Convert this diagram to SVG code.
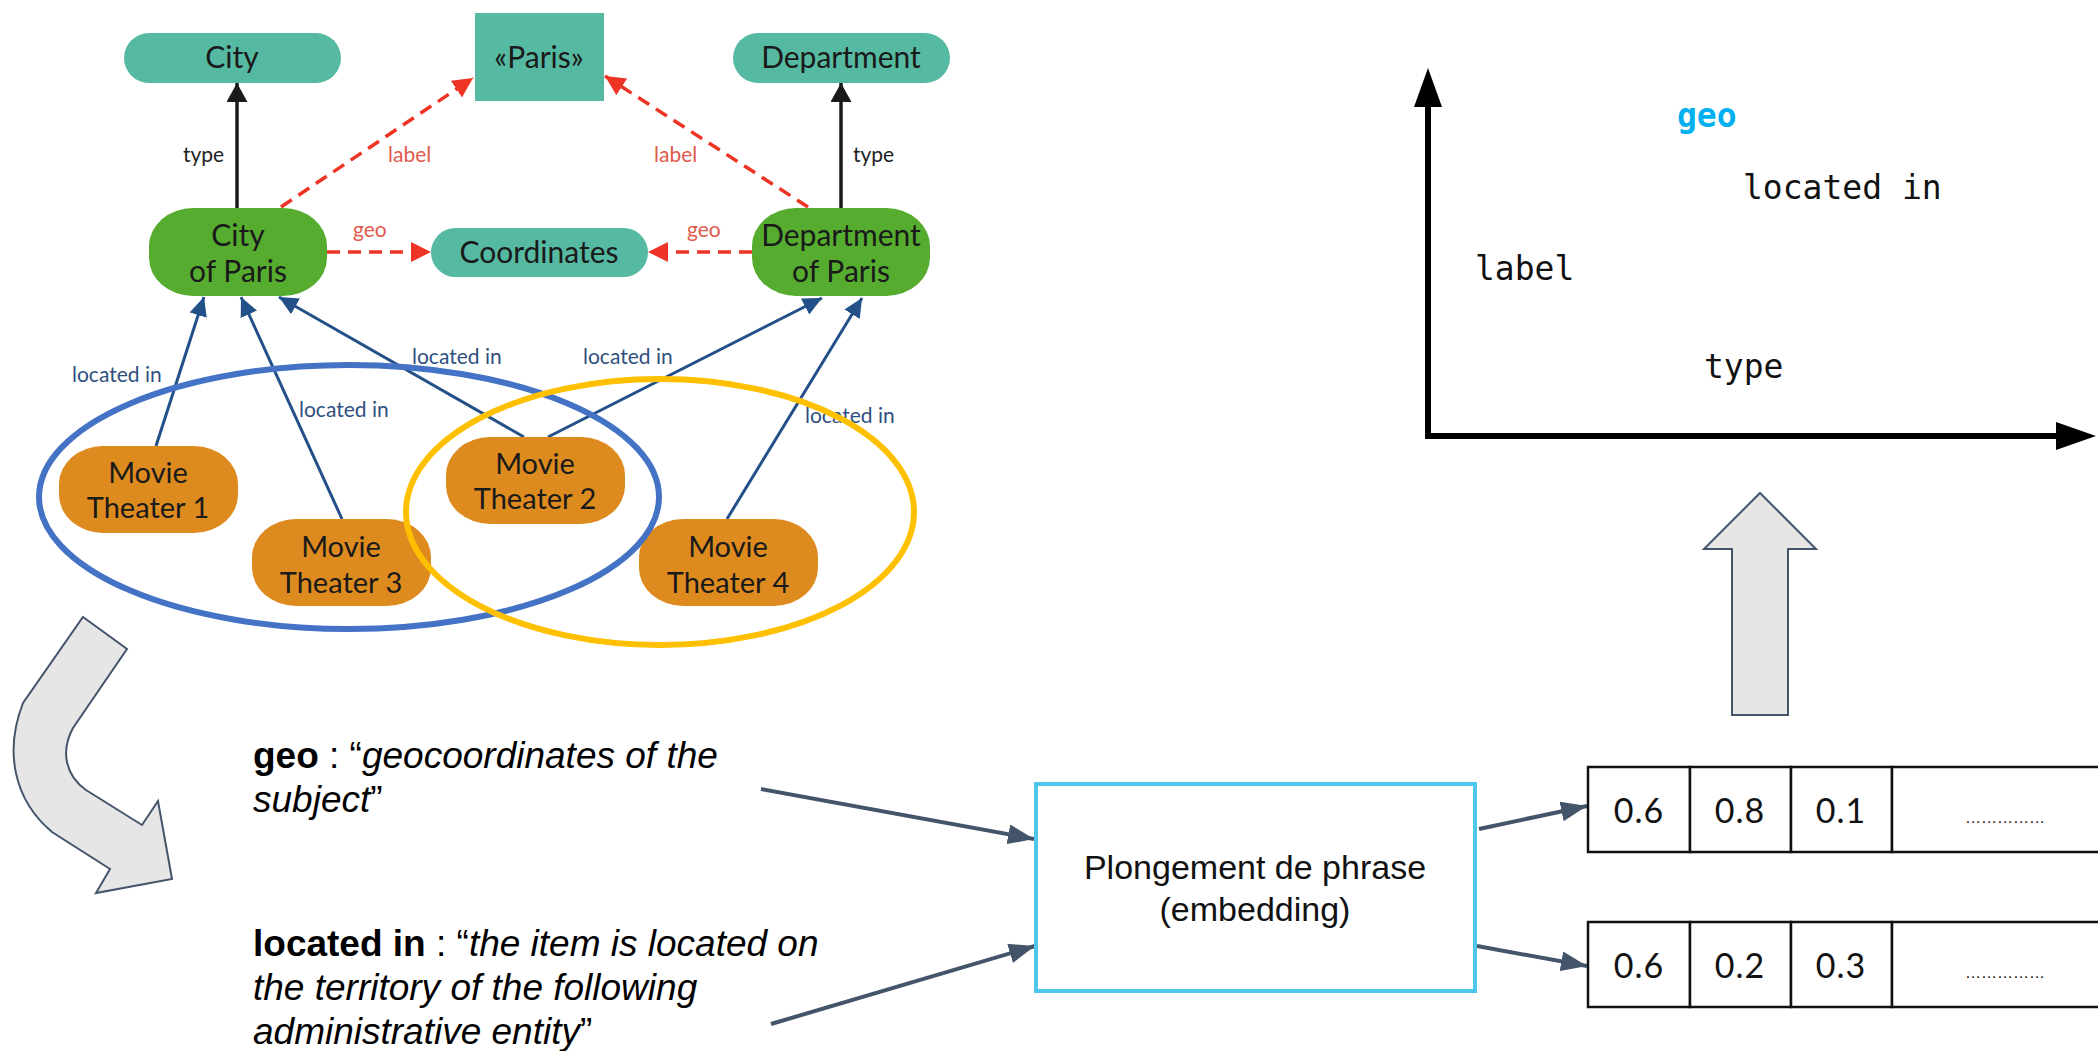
<svg xmlns="http://www.w3.org/2000/svg" width="2098" height="1051" viewBox="0 0 2098 1051">
  <style>
    .teal { fill: #56b9a2; }
    .green { fill: #55ac2f; }
    .orange { fill: #dd8a1f; }
    .ntext { font-family: Lato, "Noto Sans", sans-serif; font-size: 30px; fill: #1a1a1a; text-anchor: middle; }
    .mtext { font-family: Lato, "Noto Sans", sans-serif; font-size: 29px; fill: #1a1a1a; text-anchor: middle; }
    .elbl { font-family: Lato, "Noto Sans", sans-serif; font-size: 21px; }
    .lbl-black { fill: #222222; }
    .lbl-red { fill: #e05a4c; }
    .lbl-blue { fill: #2f4f80; }
    .e-type { stroke: #1a1a1a; stroke-width: 3.5; fill: none; }
    .e-red { stroke: #ee3424; stroke-width: 3.5; fill: none; stroke-dasharray: 13 8; }
    .e-blue { stroke: #24508a; stroke-width: 3; fill: none; }
    .e-slate { stroke: #44546a; stroke-width: 4; fill: none; }
    .mono { font-family: "DejaVu Sans Mono", "Liberation Mono", monospace; font-size: 33px; fill: #111111; }
    .desc { font-family: "Liberation Sans", Arial, sans-serif; font-size: 37px; fill: #000000; }
    .cell { fill: #ffffff; stroke: #111111; stroke-width: 2.5; }
    .num { font-family: Lato, "Noto Sans", sans-serif; font-size: 34px; letter-spacing: 1px; fill: #111111; text-anchor: middle; }
    .big-arrow { fill: #e6e6e6; stroke: #44546a; stroke-width: 2; stroke-linejoin: miter; }
  </style>
  <defs>
    <marker id="ah-black" viewBox="0 0 19 21" refX="19" refY="10.5" markerWidth="19" markerHeight="21" markerUnits="userSpaceOnUse" orient="auto">
      <path d="M0,0 L19,10.5 L0,21 z" fill="#1a1a1a"/>
    </marker>
    <marker id="ah-red" viewBox="0 0 20 20" refX="20" refY="10" markerWidth="20" markerHeight="20" markerUnits="userSpaceOnUse" orient="auto">
      <path d="M0,0 L20,10 L0,20 z" fill="#ee3424"/>
    </marker>
    <marker id="ah-blue" viewBox="0 0 19 18" refX="19" refY="9" markerWidth="19" markerHeight="18" markerUnits="userSpaceOnUse" orient="auto">
      <path d="M0,0 L19,9 L0,18 z" fill="#24508a"/>
    </marker>
    <marker id="ah-slate" viewBox="0 0 26 20" refX="26" refY="10" markerWidth="26" markerHeight="20" markerUnits="userSpaceOnUse" orient="auto">
      <path d="M0,0 L26,10 L0,20 z" fill="#44546a"/>
    </marker>
  </defs>

  <rect x="0" y="0" width="2098" height="1051" fill="#ffffff"/>

  <!-- graph edges and their labels -->
  <g id="connectors">
    <!-- type -->
    <line class="e-type" x1="237" y1="208" x2="237" y2="83" marker-end="url(#ah-black)"/>
    <line class="e-type" x1="841" y1="208" x2="841" y2="83" marker-end="url(#ah-black)"/>
    <text class="elbl lbl-black" x="183" y="162">type</text>
    <text class="elbl lbl-black" x="853" y="162">type</text>

    <!-- label -->
    <line class="e-red" x1="281" y1="207" x2="473" y2="78" marker-end="url(#ah-red)"/>
    <line class="e-red" x1="808" y1="207" x2="605" y2="76" marker-end="url(#ah-red)"/>
    <text class="elbl lbl-red" x="388" y="162">label</text>
    <text class="elbl lbl-red" x="654" y="162">label</text>

    <!-- geo -->
    <line class="e-red" x1="327" y1="252" x2="431" y2="252" marker-end="url(#ah-red)"/>
    <line class="e-red" x1="752" y1="252" x2="648" y2="252" marker-end="url(#ah-red)"/>
    <text class="elbl lbl-red" x="353" y="237">geo</text>
    <text class="elbl lbl-red" x="687" y="237">geo</text>

    <!-- located in -->
    <line class="e-blue" x1="156" y1="446" x2="204" y2="297" marker-end="url(#ah-blue)"/>
    <line class="e-blue" x1="342" y1="519" x2="241" y2="297" marker-end="url(#ah-blue)"/>
    <line class="e-blue" x1="524" y1="437" x2="279" y2="297" marker-end="url(#ah-blue)"/>
    <line class="e-blue" x1="548" y1="437" x2="822" y2="298" marker-end="url(#ah-blue)"/>
    <line class="e-blue" x1="727" y1="519" x2="862" y2="298" marker-end="url(#ah-blue)"/>
    <text class="elbl lbl-blue" x="72" y="382">located in</text>
    <text class="elbl lbl-blue" x="299" y="417">located in</text>
    <text class="elbl lbl-blue" x="412" y="364">located in</text>
    <text class="elbl lbl-blue" x="583" y="364">located in</text>
    <text class="elbl lbl-blue" x="805" y="423">located in</text>

    <!-- descriptions into the sentence embedder, embedder to vectors -->
    <line class="e-slate" x1="761" y1="789" x2="1034" y2="839" marker-end="url(#ah-slate)"/>
    <line class="e-slate" x1="771" y1="1024" x2="1035" y2="946" marker-end="url(#ah-slate)"/>
    <line class="e-slate" x1="1479" y1="829" x2="1587" y2="806" marker-end="url(#ah-slate)"/>
    <line class="e-slate" x1="1477" y1="946" x2="1587" y2="966" marker-end="url(#ah-slate)"/>
  </g>

  <!-- graph nodes -->
  <g id="node-city">
    <rect class="teal" x="124" y="33" width="217" height="50" rx="25"/>
    <text class="ntext" x="232" y="68">City</text>
  </g>
  <g id="node-paris-literal">
    <rect class="teal" x="475" y="13" width="129" height="88"/>
    <text class="ntext" x="539" y="68">«Paris»</text>
  </g>
  <g id="node-department">
    <rect class="teal" x="733" y="33" width="217" height="50" rx="25"/>
    <text class="ntext" x="841" y="68">Department</text>
  </g>
  <g id="node-city-of-paris">
    <rect class="green" x="149" y="208" width="178" height="88" rx="44" ry="38"/>
    <text class="ntext" x="238" y="246">City</text>
    <text class="ntext" x="238" y="282">of Paris</text>
  </g>
  <g id="node-coordinates">
    <rect class="teal" x="431" y="228" width="217" height="49" rx="24.5"/>
    <text class="ntext" x="539" y="263">Coordinates</text>
  </g>
  <g id="node-department-of-paris">
    <rect class="green" x="752" y="208" width="178" height="88" rx="44" ry="38"/>
    <text class="ntext" x="841" y="246">Department</text>
    <text class="ntext" x="841" y="282">of Paris</text>
  </g>
  <g id="node-movie-theater-1">
    <rect class="orange" x="59" y="446" width="179" height="87" rx="44" ry="38"/>
    <text class="mtext" x="148" y="483">Movie</text>
    <text class="mtext" x="148" y="518">Theater 1</text>
  </g>
  <g id="node-movie-theater-2">
    <rect class="orange" x="446" y="437" width="179" height="87" rx="44" ry="38"/>
    <text class="mtext" x="535" y="474">Movie</text>
    <text class="mtext" x="535" y="509">Theater 2</text>
  </g>
  <g id="node-movie-theater-3">
    <rect class="orange" x="252" y="519" width="179" height="87" rx="44" ry="38"/>
    <text class="mtext" x="341" y="557">Movie</text>
    <text class="mtext" x="341" y="593">Theater 3</text>
  </g>
  <g id="node-movie-theater-4">
    <rect class="orange" x="639" y="519" width="179" height="87" rx="44" ry="38"/>
    <text class="mtext" x="728" y="557">Movie</text>
    <text class="mtext" x="728" y="593">Theater 4</text>
  </g>

  <!-- groupings of movie theaters -->
  <g id="group-city">
    <ellipse cx="349" cy="497" rx="310" ry="132" fill="none" stroke="#4472c4" stroke-width="6"/>
  </g>
  <g id="group-department">
    <ellipse cx="660" cy="512" rx="254" ry="133" fill="none" stroke="#ffc000" stroke-width="6"/>
  </g>

  <!-- curved block arrow from graph to descriptions -->
  <g id="arrow-curved">
    <path class="big-arrow" d="M83,617 L127,649 L73,728 C60,752 66,776 86,790 L142,825 L158,801 L172,879 L96,893 L110,869 L52,832 C14,800 4,752 23,703 Z"/>
  </g>

  <!-- property descriptions -->
  <g id="desc-geo">
    <text class="desc" x="253" y="768"><tspan font-weight="bold">geo</tspan> : “<tspan font-style="italic">geocoordinates of the</tspan></text>
    <text class="desc" x="253" y="812"><tspan font-style="italic">subject</tspan>”</text>
  </g>
  <g id="desc-located-in">
    <text class="desc" x="253" y="956"><tspan font-weight="bold">located in</tspan> : “<tspan font-style="italic">the item is located on</tspan></text>
    <text class="desc" x="253" y="1000"><tspan font-style="italic">the territory of the following</tspan></text>
    <text class="desc" x="253" y="1044"><tspan font-style="italic">administrative entity</tspan>”</text>
  </g>

  <!-- sentence embedding -->
  <g id="embedder">
    <rect x="1036" y="784" width="439" height="207" fill="#ffffff" stroke="#4dc6ea" stroke-width="4"/>
    <text x="1255" y="879" font-family="'Liberation Sans', Arial, sans-serif" font-size="34" fill="#111111" text-anchor="middle">Plongement de phrase</text>
    <text x="1255" y="921" font-family="'Liberation Sans', Arial, sans-serif" font-size="34" fill="#111111" text-anchor="middle">(embedding)</text>
  </g>

  <!-- embedding vectors -->
  <g id="vector-geo">
    <rect class="cell" x="1588" y="767" width="102" height="85"/>
    <rect class="cell" x="1690" y="767" width="101" height="85"/>
    <rect class="cell" x="1791" y="767" width="101" height="85"/>
    <rect class="cell" x="1892" y="767" width="230" height="85"/>
    <text class="num" x="1639" y="823">0.6</text>
    <text class="num" x="1740" y="823">0.8</text>
    <text class="num" x="1841" y="823">0.1</text>
    <text x="2005" y="823" font-family="'Liberation Sans', Arial, sans-serif" font-size="16" fill="#111111" text-anchor="middle">……………</text>
  </g>
  <g id="vector-located-in">
    <rect class="cell" x="1588" y="922" width="102" height="85"/>
    <rect class="cell" x="1690" y="922" width="101" height="85"/>
    <rect class="cell" x="1791" y="922" width="101" height="85"/>
    <rect class="cell" x="1892" y="922" width="230" height="85"/>
    <text class="num" x="1639" y="978">0.6</text>
    <text class="num" x="1740" y="978">0.2</text>
    <text class="num" x="1841" y="978">0.3</text>
    <text x="2005" y="978" font-family="'Liberation Sans', Arial, sans-serif" font-size="16" fill="#111111" text-anchor="middle">……………</text>
  </g>

  <!-- block arrow up to the projected space -->
  <g id="arrow-up">
    <path class="big-arrow" d="M1760,493 L1816,549 L1788,549 L1788,715 L1732,715 L1732,549 L1704,549 Z"/>
  </g>

  <!-- 2D projection of property embeddings -->
  <g id="projection">
    <polyline points="1428,105 1428,436 2058,436" fill="none" stroke="#000000" stroke-width="6"/>
    <polygon points="1428,68 1442,107 1414,107" fill="#000000"/>
    <polygon points="2096,436 2056,422 2056,450" fill="#000000"/>
    <text class="mono" x="1677" y="127" style="fill:#00b0f0" font-weight="bold">geo</text>
    <text class="mono" x="1743" y="199">located in</text>
    <text class="mono" x="1475" y="280">label</text>
    <text class="mono" x="1704" y="378">type</text>
  </g>
</svg>
